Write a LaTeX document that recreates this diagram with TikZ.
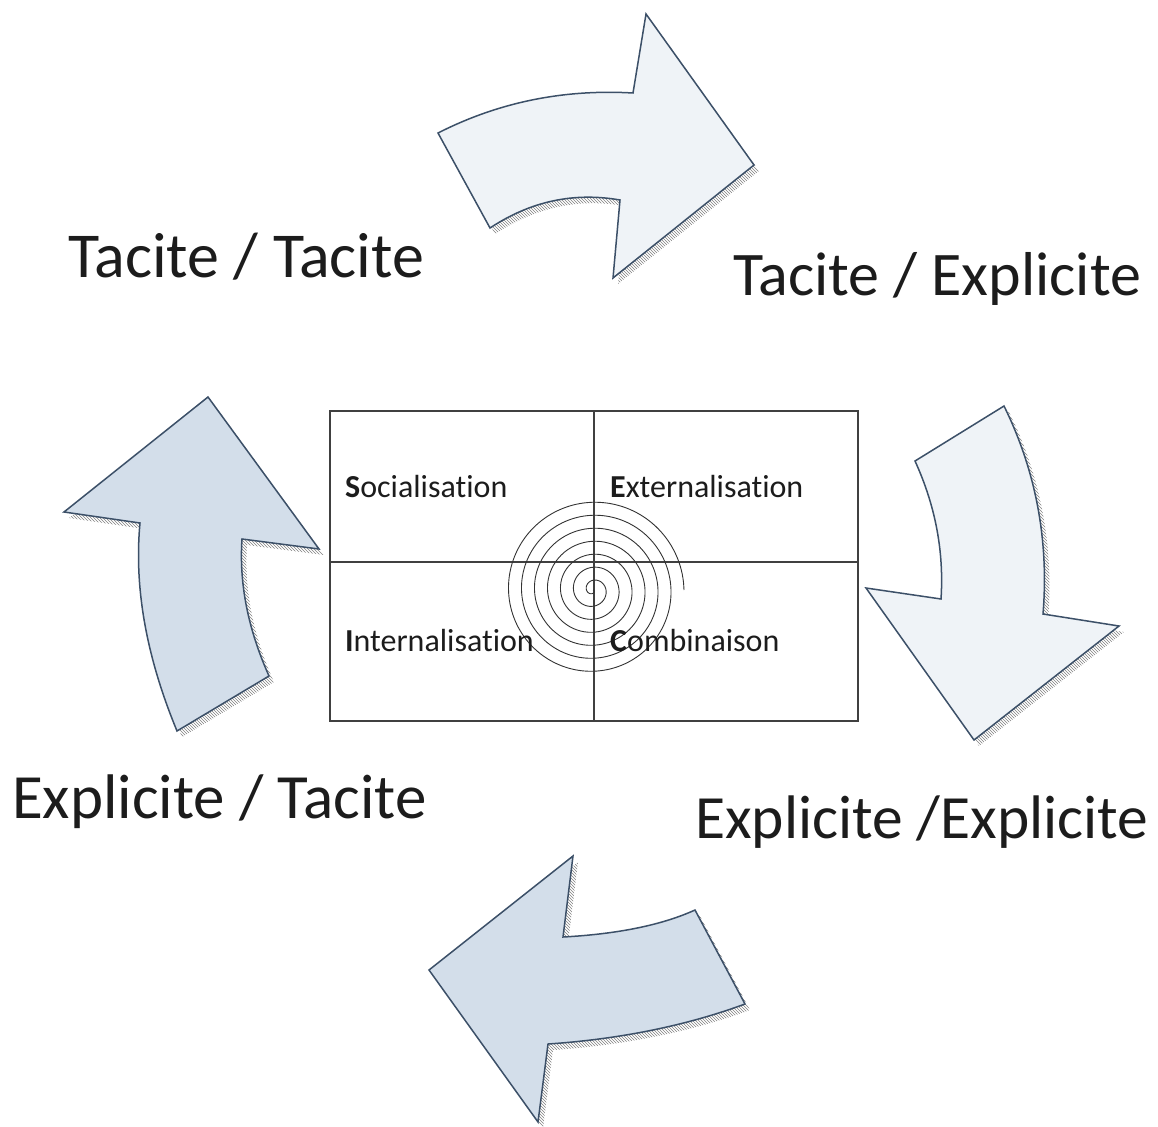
\documentclass[tikz,border=0pt]{standalone}
\usepackage{fontspec}
\setmainfont{Carlito}[Ligatures=NoCommon]
\usetikzlibrary{patterns}
\definecolor{arrowedge}{HTML}{3C5068}
\definecolor{palefill}{HTML}{EFF3F7}
\definecolor{bluefill}{HTML}{D3DEEA}
\definecolor{inktext}{HTML}{1C1C1C}
\newcommand{\bigarrow}[2]{%
  \fill[hatchshadow,shift={(5,6)}] #2;
  \draw[arrowbody,#1] #2;}

\begin{document}
\begin{tikzpicture}[x=1pt,y=-1pt,
    arrowbody/.style={draw=arrowedge,line width=1.5pt,line join=miter},
    hatchshadow/.style={pattern=north west lines,pattern color=gray},
    modelabel/.style={anchor=base west,inner sep=0pt,text=inktext,font=\fontsize{#1}{70}\selectfont},
    celllabel/.style={anchor=base west,inner sep=0pt,text=inktext,font=\fontsize{32}{36}\selectfont}]
    \useasboundingbox (0,0) rectangle (1158,1126);
    % curved arrows
    \bigarrow{fill=palefill}{(438,133) .. controls (499,102) and (564,89) .. (633,93) -- (646,14) -- (754,165)
      -- (613,278) -- (620,200) .. controls (574,192) and (531,201) .. (490,228) -- cycle}
    \bigarrow{fill=palefill}{(915,461) -- (1004,406) .. controls (1036,471) and (1049,541) .. (1043,614)
      -- (1119,626) -- (974,740) -- (866,588) -- (941,599) .. controls (944,553) and (936,507) .. cycle}
    \bigarrow{fill=bluefill}{(177,731) -- (269,676) .. controls (248,629) and (239,584) .. (242,539)
      -- (319,549) -- (208,397) -- (64,512) -- (140,523) .. controls (134,587) and (146,656) .. cycle}
    \bigarrow{fill=bluefill}{(695,910) .. controls (662,925) and (618,934) .. (563,937) -- (573,856)
      -- (429,970) -- (538,1122) -- (548,1044) .. controls (622,1039) and (688,1025) .. (745,1004) -- cycle}
    % SECI grid
    \coordinate (nw) at (330,411);
    \coordinate (se) at (858,721);
    \draw[line width=1.3pt,draw=black!75] (nw) rectangle (se);
    \draw[line width=1.3pt,draw=black!75] (594,411) -- (594,721);
    \draw[line width=1.3pt,draw=black!75] (330,562) -- (858,562);
    \draw[black!80,line width=0.9pt,domain=0:2520,samples=500,smooth]
      plot ({593+cos(\x)*(\x/360*13)},{590+sin(\x)*(\x/360*13)});
    \node[celllabel] (soc) at (345,497) {\textbf{S}ocialisation};
    \node[celllabel] (ext) at (610,497) {\textbf{E}xternalisation};
    \node[celllabel] (int) at (345,651) {\textbf{I}nternalisation};
    \node[celllabel] (com) at (610,651) {\textbf{C}ombinaison};
    % knowledge conversions
    \node[modelabel=64] (tt) at (68,277) {Tacite / Tacite};
    \node[modelabel=62] (te) at (733,295) {Tacite / Explicite};
    \node[modelabel=63] (et) at (12,818) {Explicite / Tacite};
    \node[modelabel=61.5] (ee) at (695,838) {Explicite /Explicite};
\end{tikzpicture}
\end{document}
